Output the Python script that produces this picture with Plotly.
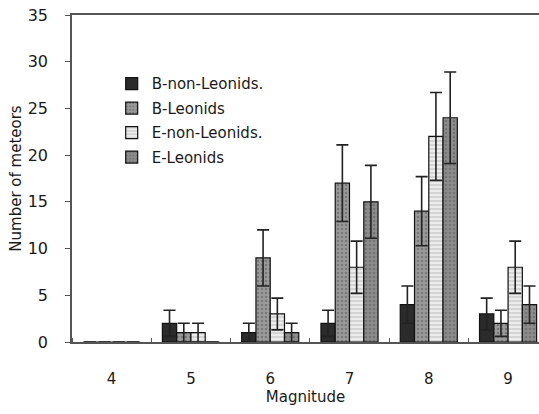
import plotly.graph_objects as go

magnitudes = [4, 5, 6, 7, 8, 9]

b_non_leonids = [0, 2, 1, 2, 4, 3]
b_leonids = [0, 1, 9, 17, 14, 2]
e_non_leonids = [0, 1, 3, 8, 22, 8]
e_leonids = [0, 0, 1, 15, 24, 4]

b_non_leonids_err = [0, 1.4, 1.0, 1.4, 2.0, 1.7]
b_leonids_err = [0, 1.0, 3.0, 4.1, 3.7, 1.4]
e_non_leonids_err = [0, 1.0, 1.7, 2.8, 4.7, 2.8]
e_leonids_err = [0, 0, 1.0, 3.9, 4.9, 2.0]

series = [
    ("B-non-Leonids.", b_non_leonids, b_non_leonids_err, "#2b2b2b", None, None),
    ("B-Leonids", b_leonids, b_leonids_err, "#9a9a9a", ".", "#555555"),
    ("E-non-Leonids.", e_non_leonids, e_non_leonids_err, "#ececec", "-", "#9a9a9a"),
    ("E-Leonids", e_leonids, e_leonids_err, "#8c8c8c", ".", "#5a5a5a"),
]

font_family = "DejaVu Sans"
ink = "#1a1a1a"

fig = go.Figure()
for i, (name, vals, errs, color, shape, fg) in enumerate(series):
    marker = dict(color=color, line=dict(color="#111111", width=1.2))
    if shape:
        marker["pattern"] = dict(shape=shape, fgcolor=fg, bgcolor=color, size=4, solidity=0.3)
    fig.add_trace(go.Bar(
        x=magnitudes, y=vals, name=name, legendgroup=f"g{i}",
        marker=marker,
        error_y=dict(type="data", array=errs, visible=True, color="#222222",
                     thickness=1.6, width=6),
    ))

fig.update_layout(
    width=539, height=414,
    margin=dict(l=72, r=0, t=15, b=72),
    paper_bgcolor="white", plot_bgcolor="white",
    barmode="group", bargap=0.28, bargroupgap=0,
    font=dict(family=font_family, color=ink),
    showlegend=True,
    legend=dict(
        x=0.085, y=0.84, xanchor="left", yanchor="top",
        bgcolor="rgba(0,0,0,0)", font=dict(size=15, color=ink),
        tracegroupgap=2, itemwidth=30,
    ),
)

fig.update_xaxes(
    range=[3.5, 9.39], tickmode="array", tickvals=magnitudes,
    ticktext=[str(m) for m in magnitudes],
    ticks="", ticklabelstandoff=22, tickfont=dict(size=15, color=ink),
    showgrid=False, zeroline=False,
    showline=True, linecolor="#555555", linewidth=1.5, mirror=True,
    minor=dict(tick0=4.5, dtick=1, ticks="inside", ticklen=4, tickcolor="#555555"),
    title=dict(text="Magnitude", font=dict(size=15, color=ink), standoff=4),
)

fig.update_yaxes(
    range=[0, 35], tickmode="linear", tick0=0, dtick=5,
    ticks="outside", ticklen=5, tickcolor="#555555",
    ticklabelstandoff=14, tickfont=dict(size=16, color=ink),
    showgrid=False, zeroline=False,
    showline=True, linecolor="#555555", linewidth=1.5,
    title=dict(text="Number of meteors", font=dict(size=15, color=ink), standoff=2),
)

fig.write_html("out.html")
